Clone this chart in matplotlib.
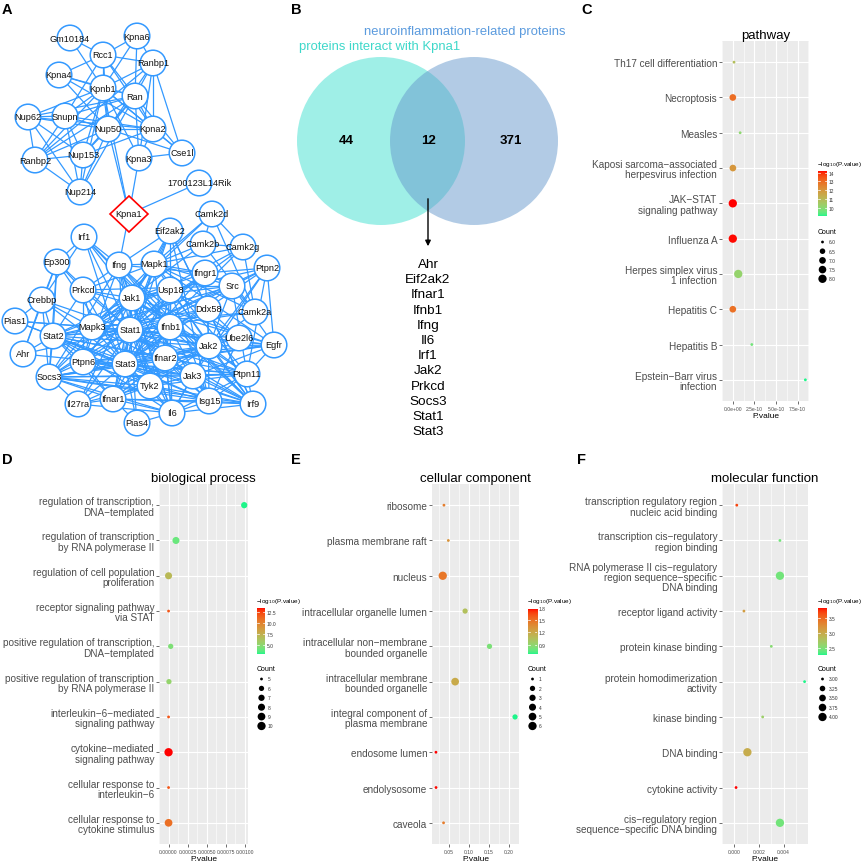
import numpy as np
import matplotlib
matplotlib.use("Agg")
import matplotlib.pyplot as plt
from matplotlib.colors import ListedColormap, Normalize
from matplotlib.patches import Circle, Polygon

plt.rcParams['font.family'] = ['Liberation Sans', 'DejaVu Sans']
plt.rcParams['axes.unicode_minus'] = True

W, H = 865, 862

# ---------------- data ----------------
# A: interaction network (node -> layout position in pixels)
node_pos = {
    "Gm10184": (70, 39), "Kpna6": (137, 37), "Rcc1": (103, 56), "Ranbp1": (153, 64),
    "Kpna4": (59, 76), "Kpnb1": (103, 89), "Ran": (135, 97), "Nup62": (28, 118),
    "Snupn": (65, 117), "Nup50": (108, 130), "Kpna2": (153, 130), "Ranbp2": (35, 161),
    "Nup153": (83, 156), "Kpna3": (139, 159), "Cse1l": (182, 154), "1700123L14Rik": (199, 184),
    "Nup214": (80, 193), "Camk2d": (212, 215),
    "Eif2ak2": (170, 232), "Camk2b": (203, 245), "Camk2g": (243, 248), "Irf1": (84, 238),
    "Ep300": (57, 263), "Ifng": (119, 266), "Mapk1": (154, 265), "Ifngr1": (205, 274),
    "Ptpn2": (267, 269), "Src": (232, 287), "Prkcd": (83, 291), "Usp18": (170, 291),
    "Jak1": (132, 299), "Crebbp": (42, 301), "Ddx58": (208, 310), "Camk2a": (255, 313),
    "Pias1": (15, 322), "Mapk3": (92, 328), "Stat1": (130, 331), "Ifnb1": (170, 328),
    "Stat2": (53, 337), "Ube2l6": (239, 339), "Jak2": (209, 347), "Egfr": (274, 346),
    "Ahr": (23, 355), "Ptpn6": (83, 363), "Stat3": (125, 365), "Ifnar2": (165, 359),
    "Ptpn11": (247, 375), "Jak3": (193, 377), "Socs3": (49, 378), "Tyk2": (150, 387),
    "Il27ra": (78, 405), "Ifnar1": (113, 400), "Isg15": (209, 402), "Irf9": (253, 405),
    "Il6": (172, 414), "Pias4": (137, 424),
}
kpna1_pos = (129, 215)

edges = """Gm10184-Rcc1 Gm10184-Kpnb1 Kpna6-Rcc1 Kpna6-Kpnb1 Kpna6-Ranbp1 Kpna6-Ran Rcc1-Ranbp1
Rcc1-Kpnb1 Rcc1-Ran Rcc1-Kpna2 Rcc1-Nup50 Rcc1-Kpna4 Kpna4-Kpnb1 Kpna4-Ran Kpna4-Nup50 Kpna4-Kpna2
Kpnb1-Ran Kpnb1-Snupn Kpnb1-Nup62 Kpnb1-Nup50 Kpnb1-Kpna2 Kpnb1-Nup153 Kpnb1-Ranbp2 Kpnb1-Nup214
Kpnb1-Kpna3 Kpnb1-Cse1l Kpnb1-Ranbp1 Ran-Ranbp1 Ran-Nup50 Ran-Kpna2 Ran-Cse1l Ran-Ranbp2 Ran-Nup153
Ran-Snupn Ran-Nup62 Ran-Kpna3 Ran-Nup214 Ranbp1-Kpna2 Ranbp1-Cse1l Ranbp1-Ranbp2 Ranbp1-Nup50
Ranbp1-Kpna3 Nup62-Snupn Nup62-Ranbp2 Nup62-Nup153 Nup62-Nup214 Nup62-Nup50 Nup62-Kpna2 Snupn-Nup50
Snupn-Ranbp2 Snupn-Nup153 Snupn-Nup214 Snupn-Kpna2 Snupn-Rcc1 Nup50-Nup153 Nup50-Ranbp2 Nup50-Nup214
Nup50-Kpna2 Nup50-Kpna1 Nup50-Cse1l Kpna2-Cse1l Kpna2-Kpna3 Kpna3-Cse1l Kpna3-Kpna1 Ranbp2-Nup153
Ranbp2-Nup214 Nup153-Nup214 Nup153-Kpna2 Kpna1-1700123L14Rik Kpna1-Ifng Kpna1-Kpnb1
Camk2d-Camk2b Camk2d-Camk2g Camk2d-Camk2a Camk2b-Camk2g Camk2b-Camk2a Camk2g-Camk2a Camk2d-Mapk1
Camk2b-Mapk1 Camk2g-Mapk1 Camk2b-Mapk3 Camk2g-Mapk3 Camk2d-Mapk3 Camk2a-Mapk3 Camk2a-Mapk1
Camk2g-Stat1 Camk2g-Stat3 Camk2a-Stat1 Camk2a-Jak2 Eif2ak2-Stat1 Eif2ak2-Ifnb1 Eif2ak2-Isg15
Eif2ak2-Ifng Eif2ak2-Jak1 Eif2ak2-Ddx58 Eif2ak2-Mapk1 Eif2ak2-Stat3 Eif2ak2-Irf9
Irf1-Stat1 Irf1-Ifng Irf1-Jak1 Irf1-Ifnb1 Irf1-Stat3 Irf1-Crebbp Irf1-Ep300 Irf1-Irf9
Ep300-Crebbp Ep300-Stat1 Ep300-Stat3 Ep300-Stat2 Ep300-Ahr Ep300-Prkcd Ep300-Socs3
Crebbp-Stat1 Crebbp-Stat2 Crebbp-Stat3 Crebbp-Pias1 Crebbp-Ahr Crebbp-Mapk3 Crebbp-Socs3
Pias1-Stat1 Pias1-Stat2 Pias1-Stat3 Pias1-Mapk3 Ahr-Stat2 Ahr-Stat3 Ahr-Stat1
Ifng-Stat1 Ifng-Ifngr1 Ifng-Jak1 Ifng-Jak2 Ifng-Stat3 Ifng-Il6 Ifng-Ifnb1 Ifng-Ptpn6 Ifng-Mapk1
Ifng-Prkcd Ifng-Socs3 Ifng-Tyk2 Ifng-Irf9 Mapk1-Mapk3 Mapk1-Stat1 Mapk1-Stat3 Mapk1-Jak2 Mapk1-Src
Mapk1-Egfr Mapk1-Ptpn11 Mapk1-Prkcd Mapk1-Jak1 Mapk1-Ptpn6 Mapk1-Ifngr1 Mapk1-Il6
Ifngr1-Jak1 Ifngr1-Jak2 Ifngr1-Stat1 Ifngr1-Socs3 Ifngr1-Stat3 Ifngr1-Ptpn2 Ifngr1-Src
Ptpn2-Jak1 Ptpn2-Stat1 Ptpn2-Stat3 Ptpn2-Egfr Ptpn2-Src Ptpn2-Jak3 Ptpn2-Jak2 Ptpn2-Ptpn11
Src-Stat3 Src-Stat1 Src-Egfr Src-Jak2 Src-Ptpn11 Src-Mapk3 Src-Ptpn6 Src-Jak1 Src-Prkcd Src-Camk2a
Prkcd-Stat1 Prkcd-Stat3 Prkcd-Mapk3 Prkcd-Jak1 Prkcd-Stat2 Prkcd-Ptpn6 Prkcd-Egfr
Usp18-Stat1 Usp18-Isg15 Usp18-Ifnar2 Usp18-Ifnb1 Usp18-Stat2 Usp18-Jak1 Usp18-Irf9 Usp18-Ube2l6
Usp18-Ifnar1 Usp18-Ddx58 Usp18-Tyk2 Usp18-Stat3 Jak1-Stat1 Jak1-Stat3 Jak1-Stat2 Jak1-Jak2
Jak1-Tyk2 Jak1-Jak3 Jak1-Ifnar1 Jak1-Ifnar2 Jak1-Il6 Jak1-Socs3 Jak1-Ptpn6 Jak1-Ptpn11 Jak1-Il27ra
Jak1-Mapk3 Jak1-Ifnb1 Jak1-Egfr Ddx58-Isg15 Ddx58-Ifnb1 Ddx58-Stat1 Ddx58-Irf9 Ddx58-Ube2l6
Ddx58-Stat2 Stat1-Stat2 Stat1-Stat3 Stat1-Ifnb1 Stat1-Ifnar1 Stat1-Ifnar2 Stat1-Jak2 Stat1-Tyk2
Stat1-Jak3 Stat1-Irf9 Stat1-Mapk3 Stat1-Socs3 Stat1-Ptpn6 Stat1-Ptpn11 Stat1-Il6 Stat1-Isg15
Stat1-Egfr Stat1-Pias4 Stat1-Il27ra Ifnb1-Ifnar1 Ifnb1-Ifnar2 Ifnb1-Stat2 Ifnb1-Stat3 Ifnb1-Tyk2
Ifnb1-Irf9 Ifnb1-Isg15 Ifnb1-Il6 Ifnb1-Jak2 Stat2-Stat3 Stat2-Ifnar1 Stat2-Ifnar2 Stat2-Tyk2
Stat2-Irf9 Stat2-Socs3 Stat2-Mapk3 Stat2-Ptpn6 Stat2-Isg15 Stat2-Jak2 Stat2-Ptpn11 Stat2-Il6
Ube2l6-Isg15 Ube2l6-Jak2 Ube2l6-Stat1 Jak2-Stat3 Jak2-Tyk2 Jak2-Jak3 Jak2-Socs3 Jak2-Ptpn6
Jak2-Ptpn11 Jak2-Egfr Jak2-Il6 Jak2-Ifnar2 Jak2-Mapk3 Jak2-Irf9 Jak2-Ifnar1 Jak2-Il27ra
Egfr-Stat3 Egfr-Ptpn11 Egfr-Jak3 Egfr-Mapk3 Egfr-Ptpn6 Egfr-Socs3 Ptpn6-Stat3 Ptpn6-Mapk3
Ptpn6-Socs3 Ptpn6-Tyk2 Ptpn6-Ptpn11 Ptpn6-Jak3 Ptpn6-Ifnar1 Stat3-Socs3 Stat3-Mapk3 Stat3-Il6
Stat3-Tyk2 Stat3-Jak3 Stat3-Ptpn11 Stat3-Ifnar2 Stat3-Ifnar1 Stat3-Il27ra Stat3-Pias4 Stat3-Irf9
Stat3-Isg15 Ifnar2-Ifnar1 Ifnar2-Tyk2 Ifnar2-Socs3 Ifnar2-Jak3 Ifnar2-Irf9 Ifnar2-Isg15 Ifnar2-Il6
Ptpn11-Jak3 Ptpn11-Il6 Ptpn11-Socs3 Ptpn11-Mapk3 Ptpn11-Irf9 Ptpn11-Tyk2 Ptpn11-Isg15
Jak3-Tyk2 Jak3-Socs3 Jak3-Il6 Jak3-Isg15 Jak3-Irf9 Jak3-Mapk3 Socs3-Il6 Socs3-Tyk2 Socs3-Mapk3
Socs3-Il27ra Socs3-Ifnar1 Socs3-Isg15 Socs3-Irf9 Tyk2-Ifnar1 Tyk2-Il6 Tyk2-Isg15 Tyk2-Irf9
Tyk2-Il27ra Il27ra-Ifnar1 Il27ra-Il6 Ifnar1-Il6 Ifnar1-Isg15 Ifnar1-Irf9 Ifnar1-Pias4
Isg15-Irf9 Isg15-Il6 Il6-Pias4 Irf9-Il6""".split()

# B: Venn
venn_counts = [44, 12, 371]
venn_labels = ["proteins interact with Kpna1", "neuroinflammation-related proteins"]
shared_genes = ["Ahr", "Eif2ak2", "Ifnar1", "Ifnb1", "Ifng", "Il6", "Irf1", "Jak2",
                "Prkcd", "Socs3", "Stat1", "Stat3"]

# C: KEGG pathway
names_c = ["Th17 cell differentiation", "Necroptosis", "Measles",
           "Kaposi sarcoma\u2212associated\nherpesvirus infection", "JAK\u2212STAT\nsignaling pathway",
           "Influenza A", "Herpes simplex virus\n1 infection", "Hepatitis C", "Hepatitis B",
           "Epstein\u2212Barr virus\ninfection"]
p_c = [1.4e-11, 1.0e-13, 8.5e-11, 1.0e-12, 6.5e-15, 7.0e-15, 6.3e-11, 1.2e-13, 2.2e-10, 8.4e-10]
count_c = [6, 7, 6, 7, 8, 8, 8, 7, 6, 6]

# D: biological process
names_d = ["regulation of transcription,\nDNA\u2212templated",
           "regulation of transcription\nby RNA polymerase II",
           "regulation of cell population\nproliferation",
           "receptor signaling pathway\nvia STAT",
           "positive regulation of transcription,\nDNA\u2212templated",
           "positive regulation of transcription\nby RNA polymerase II",
           "interleukin\u22126\u2212mediated\nsignaling pathway",
           "cytokine\u2212mediated\nsignaling pathway",
           "cellular response to\ninterleukin\u22126",
           "cellular response to\ncytokine stimulus"]
p_d = [9.9e-4, 9.7e-5, 1e-7, 1e-12, 2.8e-5, 5e-6, 1e-12, 3e-14, 1e-12, 1e-11]
count_d = [7, 8, 8, 5, 6, 6, 5, 10, 5, 9]

# E: cellular component
names_e = ["ribosome", "plasma membrane raft", "nucleus", "intracellular organelle lumen",
           "intracellular non\u2212membrane\nbounded organelle",
           "intracellular membrane\nbounded organelle",
           "integral component of\nplasma membrane", "endosome lumen", "endolysosome", "caveola"]
p_e = [0.037, 0.048, 0.034, 0.09, 0.151, 0.065, 0.215, 0.017, 0.0172, 0.036]
count_e = [1, 1, 6, 2, 2, 5, 2, 1, 1, 1]

# F: molecular function
names_f = ["transcription regulatory region\nnucleic acid binding",
           "transcription cis\u2212regulatory\nregion binding",
           "RNA polymerase II cis\u2212regulatory\nregion sequence\u2212specific\nDNA binding",
           "receptor ligand activity", "protein kinase binding",
           "protein homodimerization\nactivity", "kinase binding", "DNA binding",
           "cytokine activity",
           "cis\u2212regulatory region\nsequence\u2212specific DNA binding"]
p_f = [0.0002, 0.0037, 0.0037, 0.00078, 0.003, 0.0057, 0.0023, 0.00106, 0.00014, 0.0037]
count_f = [3, 3, 4, 3, 3, 3, 3, 4, 3, 4]


# ---------------- colour scale (ggplot-like Lab gradient) ----------------
def rgb2lab(rgb):
    c = np.where(rgb <= 0.04045, rgb / 12.92, ((rgb + 0.055) / 1.055) ** 2.4)
    M = np.array([[0.4124, 0.3576, 0.1805], [0.2126, 0.7152, 0.0722], [0.0193, 0.1192, 0.9505]])
    xyz = M @ c / np.array([0.95047, 1.0, 1.08883])
    f = np.where(xyz > 0.008856, np.cbrt(xyz), 7.787 * xyz + 16 / 116)
    return np.array([116 * f[1] - 16, 500 * (f[0] - f[1]), 200 * (f[1] - f[2])])


def lab2rgb(lab):
    fy = (lab[0] + 16) / 116
    f = np.array([fy + lab[1] / 500, fy, fy - lab[2] / 200])
    xyz = np.where(f ** 3 > 0.008856, f ** 3, (f - 16 / 116) / 7.787) * np.array([0.95047, 1.0, 1.08883])
    M = np.array([[0.4124, 0.3576, 0.1805], [0.2126, 0.7152, 0.0722], [0.0193, 0.1192, 0.9505]])
    lin = np.clip(np.linalg.solve(M, xyz), 0, None)
    rgb = np.where(lin <= 0.0031308, 12.92 * lin, 1.055 * lin ** (1 / 2.4) - 0.055)
    return np.clip(rgb, 0, 1)


def hexrgb(h):
    return np.array([int(h[i:i + 2], 16) for i in (1, 3, 5)]) / 255.0


lo_lab, hi_lab = rgb2lab(hexrgb("#1EF58A")), rgb2lab(hexrgb("#FF0000"))
cmap = ListedColormap([lab2rgb(lo_lab + t * (hi_lab - lo_lab)) for t in np.linspace(0, 1, 256)])

fig = plt.figure(figsize=(W / 100, H / 100), dpi=100)

ov = fig.add_axes([0, 0, 1, 1])
ov.set_xlim(0, W)
ov.set_ylim(H, 0)
ov.axis('off')


def rect(x0, y0, x1, y1):
    return [x0 / W, 1 - y1 / H, (x1 - x0) / W, (y1 - y0) / H]


# ---------------- A: network ----------------
blue = '#3399FF'
allpos = dict(node_pos)
allpos["Kpna1"] = kpna1_pos
for e in edges:
    a, b = e.split('-', 1) if not e.startswith('Kpna1-1700') else ('Kpna1', '1700123L14Rik')
    (x1, y1), (x2, y2) = allpos[a], allpos[b]
    ov.plot([x1, x2], [y1, y2], color=blue, lw=0.9, zorder=1, solid_capstyle='butt')
for name, (x, y) in node_pos.items():
    ov.add_patch(Circle((x, y), 12.8, facecolor='white', edgecolor=blue, lw=1.1, zorder=2))
    ov.text(x, y, name, fontsize=6.6, ha='center', va='center', color='#111111', zorder=3)
kx, ky = kpna1_pos
ov.add_patch(Polygon([(kx, ky - 18), (kx + 19, ky), (kx, ky + 18), (kx - 19, ky)],
                     closed=True, facecolor='white', edgecolor='red', lw=1.2, zorder=2))
ov.text(kx, ky, "Kpna1", fontsize=6.6, ha='center', va='center', color='#111111', zorder=3)

# ---------------- B: Venn ----------------
ov.add_patch(Circle((381, 142), 84, facecolor='#40E0D0', alpha=0.5, lw=0, zorder=1))
ov.add_patch(Circle((474, 142), 84, facecolor='#6699CC', alpha=0.5, lw=0, zorder=1))
for x, v in zip([346, 428, 511], venn_counts):
    ov.text(x, 141, str(v), fontsize=9.5, fontweight='bold', ha='center', va='center', zorder=3)
ov.text(380, 47, venn_labels[0], fontsize=9.4, color='#3ED8CA', ha='center', va='center')
ov.text(465, 32, venn_labels[1], fontsize=9.4, color='#5B9BDE', ha='center', va='center')
ov.annotate('', xy=(428, 250), xytext=(428, 197),
            arrowprops=dict(arrowstyle='-|>', color='black', lw=1, mutation_scale=8))
for i, g in enumerate(shared_genes):
    ov.text(428, 265 + i * 15.2, g, fontsize=9.7, ha='center', va='center')

# panel letters
for lab, (x, y) in zip("ABCDEF", [(2, 3), (291, 3), (581, 3), (2, 453), (291, 453), (577, 453)]):
    ov.text(x, y, lab, fontsize=10.5, fontweight='bold', ha='left', va='top')


# ---------------- C-F: dot plots ----------------
def dot_size(c, cmin, cmax):
    d = 2.8 + 5.5 * np.sqrt((np.asarray(c, float) - cmin) / (cmax - cmin))
    return (d * 0.72) ** 2


def dot_panel(px, title, names, pvals, counts, xt, xtl, step):
    ax = fig.add_axes(rect(*px))
    pvals = np.array(pvals)
    n = len(names)
    y = np.arange(n)
    score = -np.log10(pvals)
    cmin, cmax = min(counts), max(counts)
    ax.scatter(pvals, y, s=dot_size(counts, cmin, cmax), c=score, cmap=cmap,
               norm=Normalize(score.min(), score.max()), linewidths=0, zorder=3)
    lo, hi = pvals.min(), pvals.max()
    pad = 0.05 * (hi - lo)
    ax.set_xlim(lo - pad, hi + pad)
    ax.set_ylim(n - 1 + 0.6, -0.6)
    ax.set_facecolor('#EBEBEB')
    for s in ax.spines.values():
        s.set_visible(False)
    ax.set_yticks(y)
    ax.set_yticklabels(names, fontsize=7.2, color='#4D4D4D', linespacing=1.05)
    ax.set_xticks(xt)
    ax.set_xticklabels(xtl, fontsize=3.6, color='#4D4D4D')
    ax.set_xticks(np.arange(xt[0] - step / 2, hi + pad, step), minor=True)
    ax.grid(which='major', color='white', lw=0.8)
    ax.grid(which='minor', axis='x', color='white', lw=0.4)
    ax.set_axisbelow(True)
    ax.tick_params(which='major', length=2, width=0.5, color='#333333', pad=1.5)
    ax.tick_params(which='minor', length=0)
    ax.set_title(title, fontsize=9.5, pad=2.5)
    ax.set_xlabel('P.value', fontsize=6, labelpad=1)
    return score.min(), score.max(), cmin, cmax


def legend(cb, vmin, vmax, ticks, tlabels, cbreaks, clabels, crange, cy0, cdy):
    x0, y0, x1, y1 = cb
    cax = fig.add_axes(rect(x0, y0, x1, y1))
    grad = np.linspace(vmin, vmax, 256).reshape(-1, 1)
    cax.imshow(grad, cmap=cmap, aspect='auto', origin='lower', extent=[0, 1, vmin, vmax],
               vmin=vmin, vmax=vmax)
    for t in ticks:
        cax.plot([0, 0.2], [t, t], color='white', lw=0.5)
        cax.plot([0.8, 1], [t, t], color='white', lw=0.5)
    cax.set_xlim(0, 1)
    cax.set_ylim(vmin, vmax)
    cax.set_xticks([])
    cax.yaxis.tick_right()
    cax.set_yticks(ticks)
    cax.set_yticklabels(tlabels, fontsize=3.5, color='#333333')
    cax.tick_params(length=0, pad=1.5)
    for s in cax.spines.values():
        s.set_visible(False)
    ov.text(x0 - 1, y0 - 3, "\u2212log$_{10}$(P.value)", fontsize=4.6, ha='left', va='bottom')
    ov.text(x0, cy0 - 10, "Count", fontsize=5, ha='left', va='center')
    ys = cy0 + np.arange(len(cbreaks)) * cdy
    ov.scatter(np.full(len(cbreaks), x0 + 4.5), ys, s=dot_size(cbreaks, *crange),
               color='black', linewidths=0)
    for yy, t in zip(ys, clabels):
        ov.text(x0 + 11, yy, t, fontsize=3.5, ha='left', va='center', color='#333333')


smin, smax, cmn, cmx = dot_panel((722, 42, 809, 402), "pathway", names_c, p_c, count_c,
                                 [0, 2.5e-10, 5e-10, 7.5e-10],
                                 ["0.0e+00", "2.5e-10", "5.0e-10", "7.5e-10"], 2.5e-10)
legend((818, 172, 827, 217), smin, smax, [10, 11, 12, 13, 14], ["10", "11", "12", "13", "14"],
       [6.0, 6.5, 7.0, 7.5, 8.0], ["6.0", "6.5", "7.0", "7.5", "8.0"], (cmn, cmx), 243, 9.2)

smin, smax, cmn, cmx = dot_panel((159, 485, 248, 845), "biological process", names_d, p_d, count_d,
                                 [0, 0.00025, 0.0005, 0.00075, 0.001],
                                 ["0.00000", "0.00025", "0.00050", "0.00075", "0.00100"], 0.00025)
legend((257, 609, 265, 655), smin, smax, [5.0, 7.5, 10.0, 12.5], ["5.0", "7.5", "10.0", "12.5"],
       [5, 6, 7, 8, 9, 10], ["5", "6", "7", "8", "9", "10"], (cmn, cmx), 680, 9.4)

smin, smax, cmn, cmx = dot_panel((432, 485, 519, 845), "cellular component", names_e, p_e, count_e,
                                 [0.05, 0.10, 0.15, 0.20], ["0.05", "0.10", "0.15", "0.20"], 0.05)
legend((528, 609, 537, 655), smin, smax, [0.9, 1.2, 1.5, 1.8], ["0.9", "1.2", "1.5", "1.8"],
       [1, 2, 3, 4, 5, 6], ["1", "2", "3", "4", "5", "6"], (cmn, cmx), 680, 9.4)

smin, smax, cmn, cmx = dot_panel((722, 485, 808, 845), "molecular function", names_f, p_f, count_f,
                                 [0, 0.002, 0.004], ["0.000", "0.002", "0.004"], 0.002)
legend((818, 609, 827, 656), smin, smax, [2.5, 3.0, 3.5], ["2.5", "3.0", "3.5"],
       [3.0, 3.25, 3.5, 3.75, 4.0], ["3.00", "3.25", "3.50", "3.75", "4.00"], (cmn, cmx), 680, 9.5)

fig.savefig("out.png", dpi=100)
